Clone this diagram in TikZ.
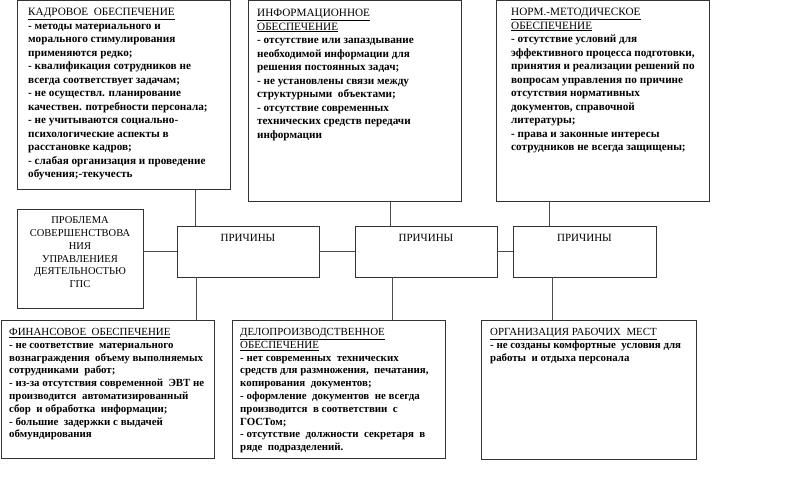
\documentclass[tikz,border=0pt]{standalone}
\usepackage{fontspec}
\setmainfont{Liberation Serif}
\begin{document}
\begin{tikzpicture}[x=1pt,y=-1pt,
  box/.style={draw=black!80, line width=0.7pt, anchor=north west, inner sep=0pt, outer sep=0pt, fill=white},
  txtA/.style={anchor=north west, align=left, inner sep=0pt, font=\fontsize{11.2}{13.5}\selectfont\bfseries},
  txtB/.style={anchor=north west, align=left, inner sep=0pt, font=\fontsize{10.9}{12.8}\selectfont\bfseries},
  hdr/.style={anchor=north, align=center, inner sep=0pt, font=\fontsize{10.5}{12.8}\selectfont},
  lnk/.style={draw=black!70, line width=0.6pt}]
\newcommand\hd[1]{\underline{\mdseries #1}}
\useasboundingbox (0,0) rectangle (800,487);
\fill[white] (0,0) rectangle (800,487);
% boxes
\node[box, minimum width=213pt, minimum height=189pt] (kadr) at (17,0.5) {};
\node[box, minimum width=213pt, minimum height=200.5pt] (info) at (248,0.5) {};
\node[box, minimum width=213pt, minimum height=200.5pt] (norm) at (496,0.5) {};
\node[box, minimum width=126pt, minimum height=99pt] (prob) at (17,209) {};
\node[box, minimum width=142pt, minimum height=51pt] (p1) at (177,226) {};
\node[box, minimum width=142pt, minimum height=51pt] (p2) at (355,226) {};
\node[box, minimum width=143pt, minimum height=51pt] (p3) at (513,226) {};
\node[box, minimum width=213pt, minimum height=138pt] (fin) at (1,320) {};
\node[box, minimum width=213pt, minimum height=138pt] (delo) at (232,320) {};
\node[box, minimum width=215pt, minimum height=139pt] (org) at (481,320) {};
% connectors
\draw[lnk] (195,0 |- kadr.south) -- (195,0 |- p1.north);
\draw[lnk] (390,0 |- info.south) -- (390,0 |- p2.north);
\draw[lnk] (549,0 |- norm.south) -- (549,0 |- p3.north);
\draw[lnk] (prob.east |- p1.west) -- (p1.west);
\draw[lnk] (p1.east) -- (p2.west);
\draw[lnk] (p2.east) -- (p3.west);
\draw[lnk] (196,0 |- p1.south) -- (196,0 |- fin.north);
\draw[lnk] (392,0 |- p2.south) -- (392,0 |- delo.north);
\draw[lnk] (552,0 |- p3.south) -- (552,0 |- org.north);
% texts
\node[txtA] (tkadr) at (28,8) {\hd{КАДРОВОЕ\ \ ОБЕСПЕЧЕНИЕ}\\
- методы материального и\\
морального стимулирования\\
применяются редко;\\
- квалификация сотрудников не\\
всегда соответствует задачам;\\
- не осуществл. планирование\\
качествен. потребности персонала;\\
- не учитываются социально-\\
психологические аспекты в\\
расстановке кадров;\\
- слабая организация и проведение\\
обучения;-текучесть};
\node[txtA] (tinfo) at (257,9) {\hd{ИНФОРМАЦИОННОЕ}\\
\hd{ОБЕСПЕЧЕНИЕ}\\
- отсутствие или запаздывание\\
необходимой информации для\\
решения постоянных задач;\\
- не установлены связи между\\
структурными\ \ объектами;\\
- отсутствие современных\\
технических средств передачи\\
информации};
\node[txtA] (tnorm) at (511,8) {\hd{НОРМ.-МЕТОДИЧЕСКОЕ}\\
\hd{ОБЕСПЕЧЕНИЕ}\\
- отсутствие условий для\\
эффективного процесса подготовки,\\
принятия и реализации решений по\\
вопросам управления по причине\\
отсутствия нормативных\\
документов, справочной\\
литературы;\\
- права и законные интересы\\
сотрудников не всегда защищены;};
\node[hdr] (tprob) at (80,216.5) {ПРОБЛЕМА\\СОВЕРШЕНСТВОВА\\НИЯ\\УПРАВЛЕНИЕЯ\\ДЕЯТЕЛЬНОСТЬЮ\\ГПС};
\node[hdr, font=\fontsize{11}{12.8}\selectfont, yshift=-8pt] (tp1) at (p1.north) {ПРИЧИНЫ};
\node[hdr, font=\fontsize{11}{12.8}\selectfont, yshift=-8pt] (tp2) at (p2.north) {ПРИЧИНЫ};
\node[hdr, font=\fontsize{11}{12.8}\selectfont, yshift=-8pt] (tp3) at (p3.north) {ПРИЧИНЫ};
\node[txtB] (tfin) at (9,328) {\hd{ФИНАНСОВОЕ\ \ ОБЕСПЕЧЕНИЕ}\\
- не соответствие\ \ материального\\
вознаграждения\ \ объему выполняемых\\
сотрудниками\ \ работ;\\
- из-за отсутствия современной\ \ ЭВТ не\\
производится\ \ автоматизированный\\
сбор\ \ и обработка\ \ информации;\\
- большие\ \ задержки с выдачей\\
обмундирования};
\node[txtB] (tdelo) at (240,328) {\hd{ДЕЛОПРОИЗВОДСТВЕННОЕ}\\
\hd{ОБЕСПЕЧЕНИЕ}\\
- нет современных\ \ технических\\
средств для размножения,\ \ печатания,\\
копирования\ \ документов;\\
- оформление\ \ документов\ \ не всегда\\
производится\ \ в соответствии\ \ с\\
ГОСТом;\\
- отсутствие\ \ должности\ \ секретаря\ \ в\\
ряде\ \ подразделений.};
\node[txtB] (torg) at (490,328) {\hd{ОРГАНИЗАЦИЯ РАБОЧИХ\ \ МЕСТ}\\
- не созданы комфортные\ \ условия для\\
работы\ \ и отдыха персонала};
\end{tikzpicture}
\end{document}
